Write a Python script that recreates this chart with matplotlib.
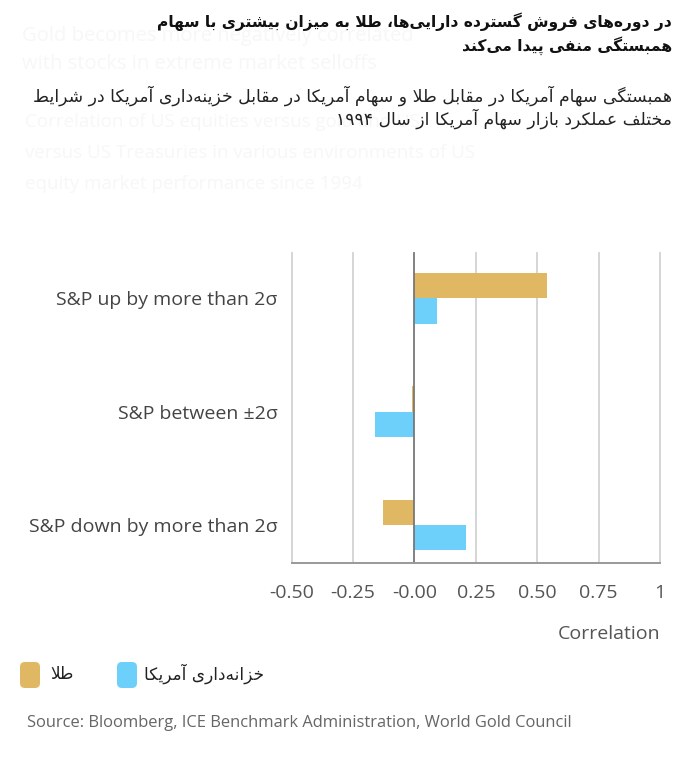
import re
import matplotlib.pyplot as plt
from matplotlib.patches import FancyBboxPatch

# data
categories = ['S&P up by more than 2σ', 'S&P between ±2σ', 'S&P down by more than 2σ']
gold = [0.54, -0.01, -0.13]
treasuries = [0.09, -0.16, 0.21]
tick_vals = [-0.5, -0.25, 0.0, 0.25, 0.5, 0.75, 1.0]
tick_labels = ['-0.50', '-0.25', '-0.00', '0.25', '0.50', '0.75', '1']
series_names = ['طلا', 'خزانه\u200cداری آمریکا']
colors = ['#e0b762', '#6dd0fb']

title_lines = ['در دوره\u200cهای فروش گسترده دارایی\u200cها، طلا به میزان بیشتری با سهام',
               'همبستگی منفی پیدا می\u200cکند']
subtitle_lines = ['همبستگی سهام آمریکا در مقابل طلا و سهام آمریکا در مقابل خزینه\u200cداری آمریکا در شرایط',
                  'مختلف عملکرد بازار سهام آمریکا از سال ۱۹۹۴']
ghost_title = ['Gold becomes more negatively correlated',
               'with stocks in extreme market selloffs']
ghost_sub = ['Correlation of US equities versus gold and US',
             'versus US Treasuries in various environments of US',
             'equity market performance since 1994']
source = 'Source: Bloomberg, ICE Benchmark Administration, World Gold Council'

# matplotlib has no arabic shaping, so map letters to presentation forms by hand
# first code of (isolated, final, initial, medial) block
DUAL = {'ب': 0xFE8F, 'پ': 0xFB56, 'ت': 0xFE95, 'ث': 0xFE99, 'ج': 0xFE9D, 'چ': 0xFB7A,
        'ح': 0xFEA1, 'خ': 0xFEA5, 'س': 0xFEB1, 'ش': 0xFEB5, 'ص': 0xFEB9, 'ض': 0xFEBD,
        'ط': 0xFEC1, 'ظ': 0xFEC5, 'ع': 0xFEC9, 'غ': 0xFECD, 'ف': 0xFED1, 'ق': 0xFED5,
        'ک': 0xFB8E, 'گ': 0xFB92, 'ل': 0xFEDD, 'م': 0xFEE1, 'ن': 0xFEE5, 'ه': 0xFEE9,
        'ی': 0xFBFC, 'ئ': 0xFE89}
# right joining letters: (isolated, final)
RIGHT = {'ا': 0xFE8D, 'آ': 0xFE81, 'د': 0xFEA9, 'ذ': 0xFEAB, 'ر': 0xFEAD, 'ز': 0xFEAF,
         'ژ': 0xFB8A, 'و': 0xFEED}


def shape(text):
    out = []
    i = 0
    n = len(text)
    while i < n:
        c = text[i]
        prev = text[i - 1] if i > 0 else ''
        nxt = text[i + 1] if i + 1 < n else ''
        pj = prev in DUAL
        if c == 'ل' and nxt in ('ا', 'آ'):
            base = 0xFEFB if nxt == 'ا' else 0xFEF5
            out.append(chr(base + (1 if pj else 0)))
            i += 2
            continue
        if c in DUAL:
            nj = nxt in DUAL or nxt in RIGHT
            k = 3 if (pj and nj) else 1 if pj else 2 if nj else 0
            out.append(chr(DUAL[c] + k))
        elif c in RIGHT:
            out.append(chr(RIGHT[c] + (1 if pj else 0)))
        elif c != '\u200c':
            out.append(c)
        i += 1
    return ''.join(out)


def rtl(text):
    s = shape(text)
    parts = re.findall(r'[0-9\u06F0-\u06F9]+|[^0-9\u06F0-\u06F9]+', s)
    return ''.join(p if p[0].isdigit() else p[::-1] for p in reversed(parts))


W, H = 700, 767
fig = plt.figure(figsize=(W / 100, H / 100), dpi=100)
fig.patch.set_facecolor('white')

# overlay in pixel coords for texts and legend
bg = fig.add_axes([0, 0, 1, 1])
bg.set_xlim(0, W)
bg.set_ylim(H, 0)
bg.axis('off')
bg.patch.set_visible(False)

latin = ['Open Sans', 'DejaVu Sans']
fa = ['DejaVu Sans']

# faint english title left behind the persian one
for k, line in enumerate(ghost_title):
    bg.text(22, 36 + 28 * k, line, fontsize=14.5, family=latin, color='#f7f7f7', va='center')
for k, line in enumerate(ghost_sub):
    bg.text(25, 122 + 31 * k, line, fontsize=13.5, family=latin, color='#f7f7f7', va='center')

for k, line in enumerate(title_lines):
    bg.text(672, 22 + 24 * k, rtl(line), fontsize=11.2, family=fa, weight='bold',
            color='#111111', ha='right', va='center')
for k, line in enumerate(subtitle_lines):
    bg.text(672, 96 + 23 * k, rtl(line), fontsize=12.4, family=fa,
            color='#222222', ha='right', va='center')

# main chart
ax = fig.add_axes([291.7 / W, 1 - 563.3 / H, (660 - 291.7) / W, (563.3 - 253) / H])
ax.patch.set_visible(False)
y = list(range(len(categories)))
h = 0.223
ax.barh([v - h / 2 for v in y], gold, height=h, color=colors[0], zorder=3)
ax.barh([v + h / 2 for v in y], treasuries, height=h, color=colors[1], zorder=3)
ax.set_xlim(-0.5, 1.0)
ax.set_ylim(2.34, -0.40)
for t in tick_vals:
    if t == 0:
        ax.axvline(t, color='#777777', lw=1.3, zorder=4, clip_on=False)
    else:
        ax.axvline(t, color='#d2d2d2', lw=1.3, zorder=1, clip_on=False)
for s in ['top', 'right', 'left']:
    ax.spines[s].set_visible(False)
ax.spines['bottom'].set_color('#999999')
ax.spines['bottom'].set_linewidth(1.4)
ax.spines['bottom'].set_zorder(5)
ax.set_xticks(tick_vals)
ax.set_xticklabels(tick_labels, family=latin, fontsize=14, color='#555555')
ax.set_yticks(y)
ax.set_yticklabels(categories, family=latin, fontsize=14, color='#444444')
ax.tick_params(axis='both', length=0)
ax.tick_params(axis='x', pad=15)
ax.tick_params(axis='y', pad=10)

bg.text(660, 634, 'Correlation', fontsize=14, family=latin, color='#555555', ha='right', va='center')

# legend
sw_x = [20, 117]
txt_x = [50, 144]
for k in range(2):
    bg.add_patch(FancyBboxPatch((sw_x[k], 662), 20, 26, boxstyle='round,pad=0,rounding_size=5',
                                facecolor=colors[k], edgecolor='none'))
    bg.text(txt_x[k], 674, rtl(series_names[k]), fontsize=12.2, family=fa,
            color='#222222', ha='left', va='center')

bg.text(27, 723, source, fontsize=11.9, family=latin, color='#666666', va='center')

fig.savefig('out.png', dpi=100)
